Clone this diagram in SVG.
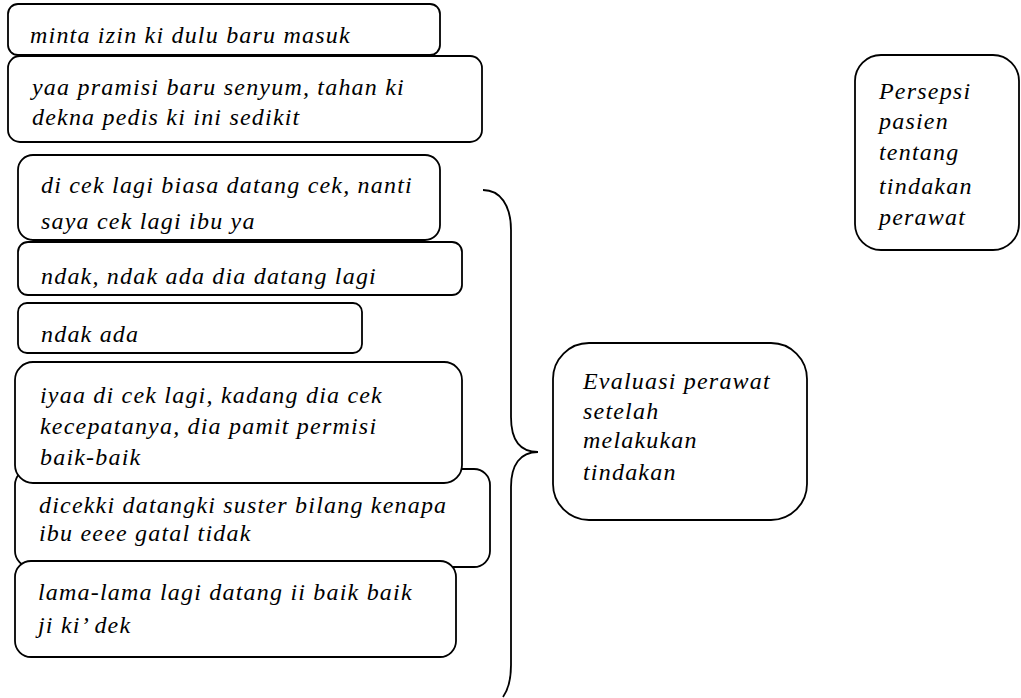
<svg xmlns="http://www.w3.org/2000/svg" width="1021" height="698" viewBox="0 0 1021 698">
<style>
.box{fill:#fff;stroke:#000;stroke-width:1.8}
.br{fill:none;stroke:#000;stroke-width:1.8}
</style>
<rect width="1021" height="698" fill="#fff"/>
<g font-family="Liberation Serif, serif" font-style="italic" font-size="24" letter-spacing="1.2" fill="#000">
<g id="n1"><rect class="box" x="8" y="4" width="432" height="51" rx="10"/><text x="30" y="43">minta izin ki dulu baru masuk</text></g>
<g id="n2"><rect class="box" x="8" y="56" width="474" height="86" rx="12"/><text x="32" y="95">yaa pramisi baru senyum, tahan ki</text><text x="32" y="125">dekna pedis ki ini sedikit</text></g>
<g id="n3"><rect class="box" x="18" y="155" width="422" height="85" rx="15"/><text x="41" y="193">di cek lagi biasa datang cek, nanti</text><text x="41" y="229">saya cek lagi ibu ya</text></g>
<g id="n4"><rect class="box" x="18" y="242" width="444" height="53" rx="10"/><text x="41" y="284">ndak, ndak ada dia datang lagi</text></g>
<g id="n5"><rect class="box" x="18" y="303" width="344" height="50" rx="9"/><text x="41" y="342">ndak ada</text></g>
<g id="n7"><rect class="box" x="15" y="469" width="475" height="98" rx="16"/><text x="39" y="513">dicekki datangki suster bilang kenapa</text><text x="39" y="541">ibu eeee gatal tidak</text></g>
<g id="n6"><rect class="box" x="15" y="362" width="447" height="121" rx="18"/><text x="40" y="403">iyaa di cek lagi, kadang dia cek</text><text x="40" y="434">kecepatanya, dia pamit permisi</text><text x="40" y="465">baik-baik</text></g>
<g id="n8"><rect class="box" x="15" y="561" width="441" height="96" rx="16"/><text x="38" y="600">lama-lama lagi datang ii baik baik</text><text x="38" y="633">ji ki’ dek</text></g>
<g id="n9"><rect class="box" x="553" y="343" width="254" height="177" rx="36"/><text x="583" y="389">Evaluasi perawat</text><text x="583" y="419">setelah</text><text x="583" y="448">melakukan</text><text x="583" y="480">tindakan</text></g>
<g id="n10"><rect class="box" x="855" y="55" width="164" height="195" rx="26"/><text x="879" y="99">Persepsi</text><text x="879" y="129">pasien</text><text x="879" y="160">tentang</text><text x="879" y="194">tindakan</text><text x="879" y="225">perawat</text></g>
</g>
<g id="connectors"><path class="br" d="M483,190 C500,190 511,205 511,230 L511,417 C511,440 520,452 538,452 C520,452 511,465 511,487 L511,665 C511,680 508,690 503,697"/></g>
</svg>
